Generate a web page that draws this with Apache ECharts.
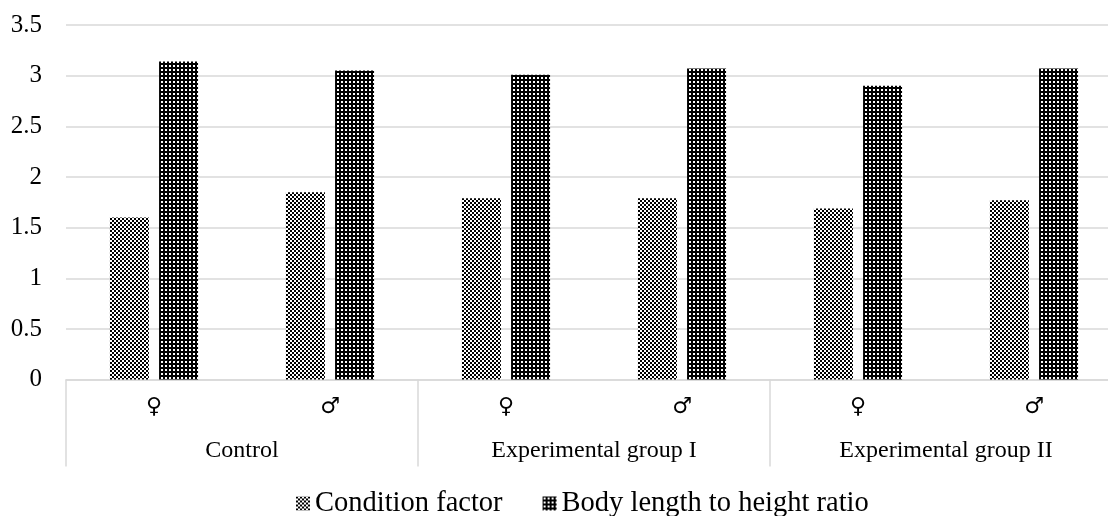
<!DOCTYPE html>
<html><head><meta charset="utf-8">
<script src="https://cdn.jsdelivr.net/npm/echarts@6/dist/echarts.min.js"></script>
<style>html,body{margin:0;padding:0;background:#fff}#c{width:1108px;height:516px}</style>
</head><body><div id="c"></div>
<script>
const groups = ['Control', 'Experimental group I', 'Experimental group II'];
const sexes = ['♀', '♂', '♀', '♂', '♀', '♂'];
const seriesNames = ['Condition factor', 'Body length to height ratio'];
const conditionFactor = [1.60, 1.85, 1.79, 1.79, 1.69, 1.77];
const bodyRatio = [3.14, 3.05, 3.01, 3.07, 2.90, 3.07];

function makePattern(type) {
  const c = document.createElement('canvas');
  c.width = 4; c.height = 4;
  const g = c.getContext('2d');
  if (type === 'check') {
    g.fillStyle = '#fff'; g.fillRect(0, 0, 4, 4);
    g.fillStyle = '#000'; g.fillRect(0, 0, 2, 2); g.fillRect(2, 2, 2, 2);
  } else {
    g.fillStyle = '#000'; g.fillRect(0, 0, 4, 4);
    g.fillStyle = '#fff'; g.fillRect(1, 1, 2, 2);
  }
  return { image: c, repeat: 'repeat' };
}

const serif = '"Liberation Serif", "Times New Roman", serif';
const gridBox = { left: 66, right: -14, top: 25, bottom: 136.4, containLabel: false, outerBoundsMode: 'none' };
const chart = echarts.init(document.getElementById('c'));
chart.setOption({
  animation: false,
  backgroundColor: '#fff',
  grid: [Object.assign({}, gridBox), Object.assign({}, gridBox)],
  legend: {
    top: 484, left: 291, itemWidth: 14, itemHeight: 14, itemGap: 40,
    icon: 'rect',
    data: seriesNames,
    textStyle: { fontSize: 28.5, fontFamily: serif, color: '#000' }
  },
  xAxis: [
    {
      type: 'category', gridIndex: 0, data: sexes,
      axisLine: { lineStyle: { color: '#d9d9d9', width: 1.5 } },
      axisTick: { show: false },
      axisLabel: { margin: 17, fontSize: 22, color: '#000', fontFamily: '"DejaVu Sans", sans-serif' }
    },
    {
      type: 'category', gridIndex: 1, data: groups,
      axisLine: { show: false },
      axisTick: { show: true, length: 87, interval: 0, lineStyle: { color: '#d9d9d9', width: 1.5 } },
      axisLabel: { margin: 59, fontSize: 24, color: '#000', fontFamily: serif, interval: 0 }
    }
  ],
  yAxis: [
    {
      type: 'value', gridIndex: 0, min: 0, max: 3.5, interval: 0.5,
      axisLine: { show: false }, axisTick: { show: false },
      splitLine: { lineStyle: { color: '#d9d9d9', width: 1.5 } },
      axisLabel: { margin: 24, fontSize: 25, color: '#000', fontFamily: serif }
    },
    {
      type: 'value', gridIndex: 1, min: 0, max: 3.5, show: false,
      splitLine: { show: false }
    }
  ],
  series: [
    {
      name: seriesNames[0], type: 'bar', xAxisIndex: 0, yAxisIndex: 0,
      data: conditionFactor, barWidth: 39, barGap: '26%',
      itemStyle: { color: makePattern('check') }
    },
    {
      name: seriesNames[1], type: 'bar', xAxisIndex: 0, yAxisIndex: 0,
      data: bodyRatio, barWidth: 39, barGap: '26%',
      itemStyle: { color: makePattern('dots') }
    }
  ]
});
</script>
</body></html>
